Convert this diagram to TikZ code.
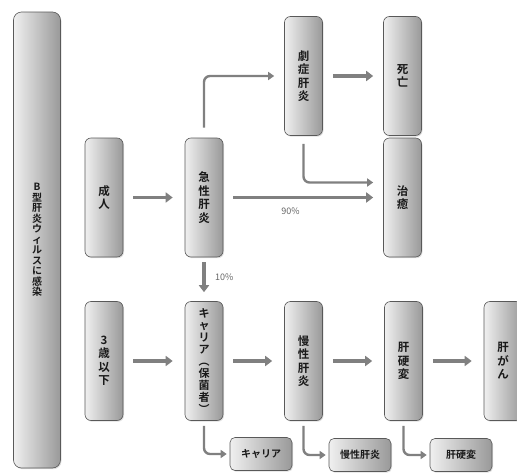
\documentclass[tikz,border=0pt]{standalone}
\usepackage{fontspec}
\setmainfont{Noto Sans CJK JP}[BoldFont={Noto Sans CJK JP Bold}]
\usetikzlibrary{arrows.meta,shadows}
\begin{document}
\begin{tikzpicture}[x=1pt,y=-1pt,
  box/.style={draw=black!65,line width=0.6pt,rounded corners=6pt,left color=black!6,right color=black!40,
    drop shadow={opacity=0.25,shadow xshift=1pt,shadow yshift=-1.2pt},
    minimum width=38pt,minimum height=119pt,inner sep=0pt,align=center,
    text=black!90,font=\bfseries\fontsize{11.5}{13.5}\selectfont},
  smallbox/.style={box,minimum width=62pt,minimum height=33pt,rounded corners=5pt,font=\bfseries\fontsize{10}{11}\selectfont},
  arr/.style={draw=black!50,line width=3.5pt,-{Triangle[length=7pt,width=10pt]}},
  branch/.style={draw=black!50,line width=2.4pt,rounded corners=6pt,-{Triangle[length=6pt,width=8pt]}},
  pct/.style={text=black!60,font=\fontsize{9}{10}\selectfont}]
\useasboundingbox (0,0) rectangle (517,474);

\node[box,minimum width=47pt,minimum height=456pt,rounded corners=8pt,font=\bfseries\fontsize{10}{10.5}\selectfont] (hbv) at (37,240) {B\\型\\肝\\炎\\ウ\\ィ\\ル\\ス\\に\\感\\染};

\node[box] (seijin) at (104,197.5) {成\\人};
\node[box] (kyusei) at (204,197.5) {急\\性\\肝\\炎};
\node[box] (gekisho) at (303.5,76) {劇\\症\\肝\\炎};
\node[box] (shibo) at (402.5,76) {死\\亡};
\node[box] (chiyu) at (402.5,197.5) {治\\癒};

\node[box] (sansai) at (104,361) {3\\歳\\以\\下};
\node[box,font=\bfseries\fontsize{11}{12}\selectfont] (carrier) at (204,361) {キ\\ャ\\リ\\ア\\︵\\保\\菌\\者\\︶};
\node[box] (mansei) at (303.5,361) {慢\\性\\肝\\炎};
\node[box] (kokahen) at (403.5,361) {肝\\硬\\変};
\node[box] (kangan) at (503,361) {肝\\が\\ん};

\node[smallbox] (carrierS) at (261,454) {キャリア};
\node[smallbox] (manseiS) at (360,455) {慢性肝炎};
\node[smallbox] (kokahenS) at (461,455) {肝硬変};

\draw[arr,shorten <=10pt,shorten >=12pt] (seijin) -- (kyusei);
\draw[arr,shorten <=10pt,shorten >=10pt] (kyusei) -- (chiyu) node[pct,pos=0.42,below=5pt] {90\%};
\draw[branch,shorten <=10pt,shorten >=10pt] (kyusei.north) |- (gekisho.west);
\draw[arr,shorten <=10pt,shorten >=10pt] (gekisho) -- (shibo);
\draw[branch,shorten <=8pt,shorten >=10pt] (gekisho.south) |- ([yshift=15pt]chiyu.west);
\draw[arr,shorten <=5pt,shorten >=9pt] (kyusei) -- (carrier) node[pct,pos=0.45,right=6pt] {10\%};

\draw[arr,shorten <=10pt,shorten >=12pt] (sansai) -- (carrier);
\draw[arr,shorten <=10pt,shorten >=12pt] (carrier) -- (mansei);
\draw[arr,shorten <=10pt,shorten >=12pt] (mansei) -- (kokahen);
\draw[arr,shorten <=10pt,shorten >=12pt] (kokahen) -- (kangan);

\draw[branch,shorten <=5pt,shorten >=3pt] (carrier.south) |- (carrierS.west);
\draw[branch,shorten <=5pt,shorten >=3pt] (mansei.south) |- (manseiS.west);
\draw[branch,shorten <=5pt,shorten >=3pt] (kokahen.south) |- (kokahenS.west);
\end{tikzpicture}
\end{document}
